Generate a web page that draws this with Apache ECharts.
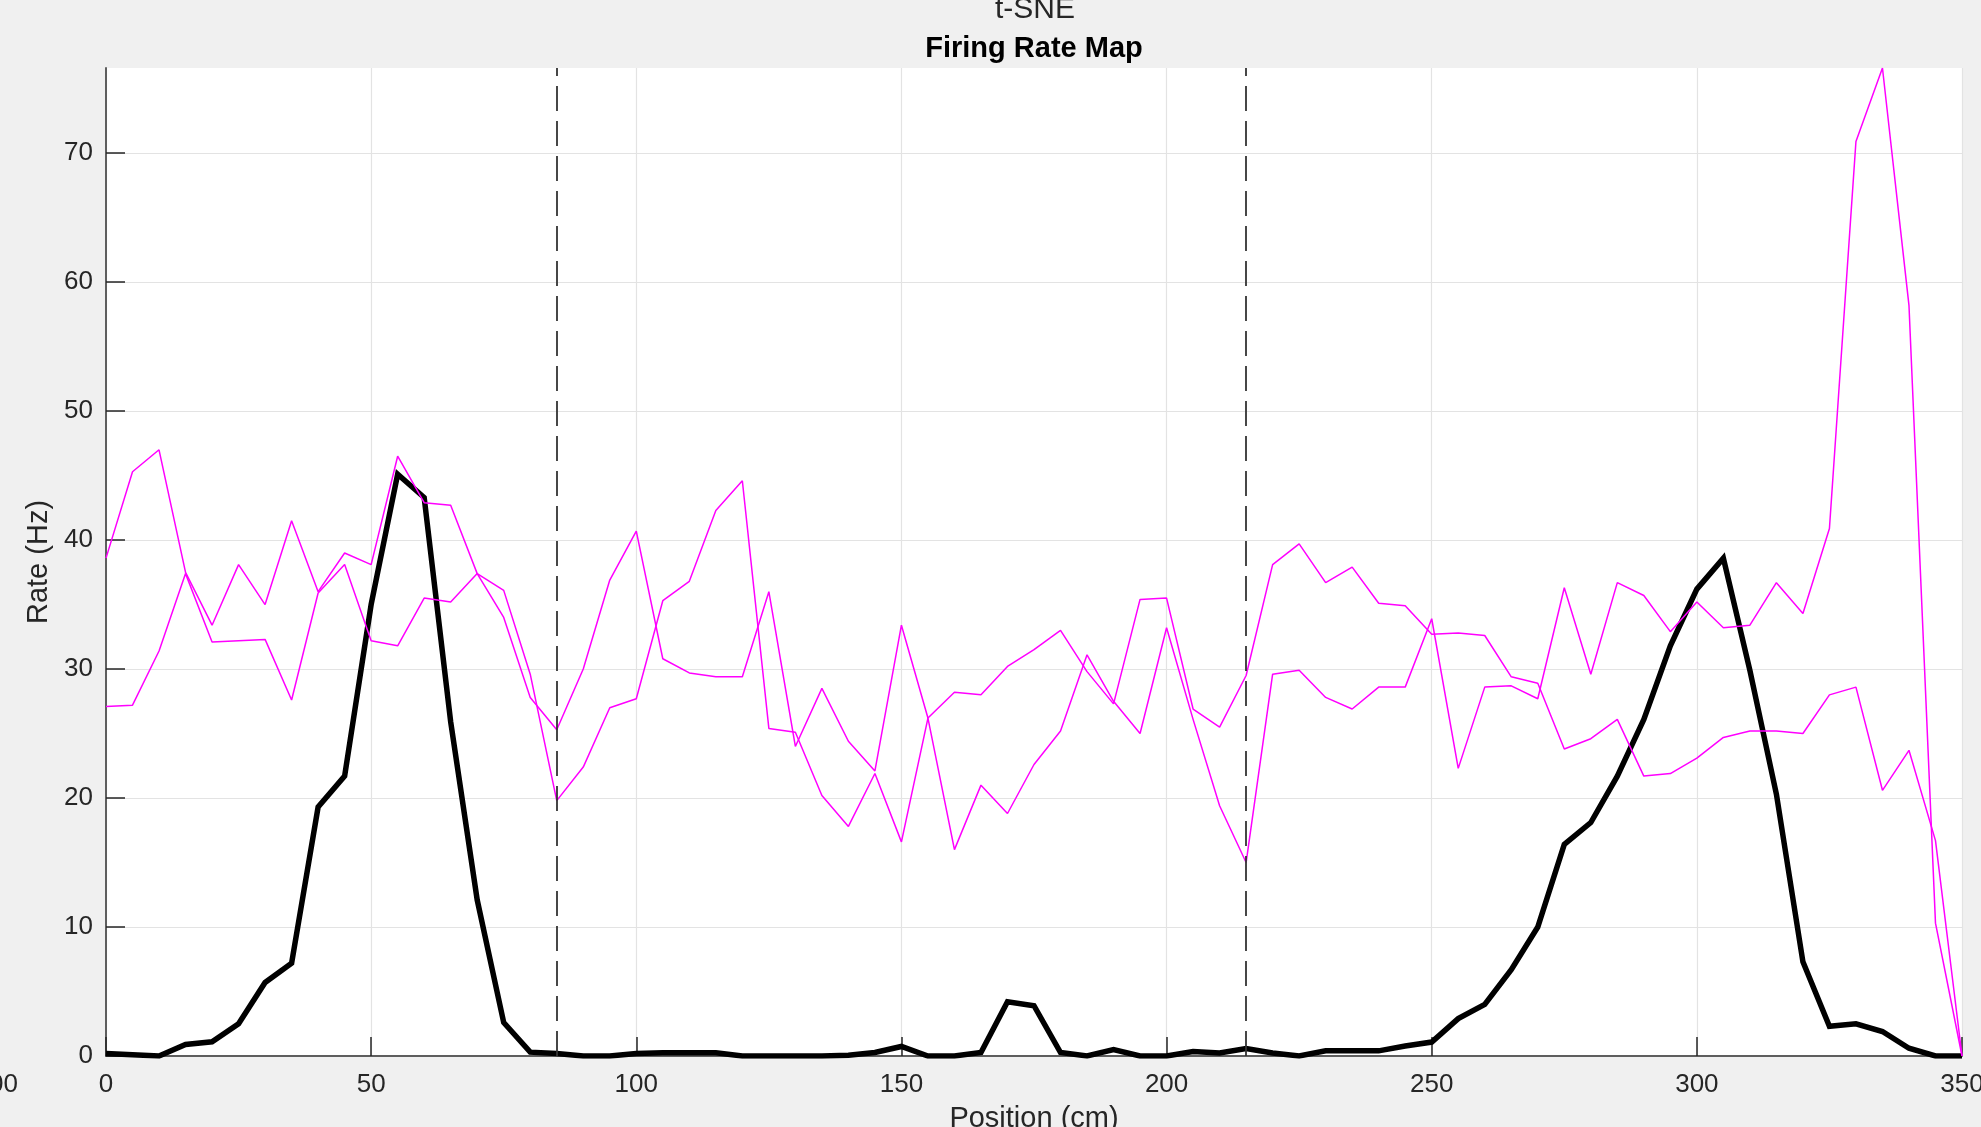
<!DOCTYPE html>
<html>
<head>
<meta charset="utf-8">
<script src="https://cdn.jsdelivr.net/npm/echarts@6/dist/echarts.min.js"></script>
<style>
html,body{margin:0;padding:0;background:#f0f0f0;overflow:hidden;width:100%;height:100%;}
#c{width:1981px;height:1127px;}
</style>
</head>
<body>
<div id="c"></div>
<script>
// Position bins (cm)
const positions = [0,5,10,15,20,25,30,35,40,45,50,55,60,65,70,75,80,85,90,95,100,105,110,115,120,125,130,135,140,145,150,155,160,165,170,175,180,185,190,195,200,205,210,215,220,225,230,235,240,245,250,255,260,265,270,275,280,285,290,295,300,305,310,315,320,325,330,335,340,345,350];

// Black thick: firing rate map
const rateBlack = [0.2,0.1,0,0.9,1.1,2.5,5.7,7.2,19.3,21.7,35.0,45.1,43.3,25.9,12.1,2.6,0.3,0.2,0,0,0.2,0.25,0.25,0.25,0,0,0,0,0.05,0.27,0.74,0,0,0.27,4.2,3.9,0.27,0,0.5,0,0,0.34,0.24,0.57,0.24,0,0.4,0.4,0.4,0.77,1.08,2.9,4.0,6.7,10.0,16.4,18.1,21.7,26.1,31.8,36.2,38.6,29.9,20.3,7.3,2.3,2.5,1.9,0.6,0,0];

// Magenta thin lines
const rateMagentaA = [38.6,45.3,47.0,37.5,33.4,38.1,35.0,41.5,36.0,39.0,38.1,46.5,42.9,42.7,37.4,34.0,27.8,25.3,30.0,36.9,40.7,30.8,29.7,29.4,29.4,36.0,24.0,28.5,24.4,22.1,33.4,26.2,16.0,21.0,18.8,22.6,25.2,31.1,27.5,25.0,33.2,26.1,19.4,15.0,29.6,29.9,27.8,26.9,28.6,28.6,33.9,22.3,28.6,28.7,27.7,36.3,29.6,36.7,35.7,32.9,35.2,33.2,33.4,36.7,34.3,40.9,70.9,76.6,58.2,10.3,0];
const rateMagentaB = [27.1,27.2,31.4,37.4,32.1,32.2,32.3,27.6,35.9,38.1,32.2,31.8,35.5,35.2,37.4,36.1,29.6,19.8,22.4,27.0,27.7,35.3,36.8,42.3,44.6,25.4,25.1,20.2,17.8,21.9,16.6,26.2,28.2,28.0,30.2,31.5,33.0,29.8,27.3,35.4,35.5,26.9,25.5,29.5,38.1,39.7,36.7,37.9,35.1,34.9,32.7,32.8,32.6,29.4,28.9,23.8,24.6,26.1,21.7,21.9,23.1,24.7,25.2,25.2,25.0,28.0,28.6,20.6,23.7,16.7,0];

// Dashed boundary positions (cm)
const boundaries = [85, 215];

const xTicks = {min:0, max:350, interval:50};
const yTicks = {min:0, max:76.6, interval:10};

const pair = arr => positions.map((p,i)=>[p, arr[i]]);
const FONT = '"Liberation Sans", Arial, Helvetica, sans-serif';

const chart = echarts.init(document.getElementById('c'), null, {renderer:'canvas'});
chart.setOption({
  backgroundColor:'#f0f0f0',
  animation:false,
  grid:{left:106, right:19, top:68, bottom:71, show:true, backgroundColor:'#ffffff', borderWidth:0,
        containLabel:false, outerBoundsMode:'none'},
  xAxis:{
    type:'value', min:xTicks.min, max:xTicks.max, interval:xTicks.interval,
    name:'Position (cm)', nameLocation:'middle', nameGap:48,
    nameTextStyle:{fontFamily:FONT, fontSize:29, color:'#262626'},
    axisLine:{show:true, onZero:false, lineStyle:{color:'#5e5e5e', width:2}},
    axisTick:{show:true, inside:true, length:19, lineStyle:{color:'#262626', width:1.5}},
    axisLabel:{fontFamily:FONT, fontSize:26, color:'#262626', margin:16, hideOverlap:false},
    splitLine:{show:true, lineStyle:{color:'#e3e3e3', width:1.2}}
  },
  yAxis:{
    type:'value', min:yTicks.min, max:yTicks.max, interval:yTicks.interval,
    name:'Rate (Hz)', nameLocation:'middle', nameGap:49, nameRotate:90,
    nameTextStyle:{fontFamily:FONT, fontSize:29, color:'#262626'},
    axisLine:{show:true, onZero:false, lineStyle:{color:'#5e5e5e', width:2}},
    axisTick:{show:true, inside:true, length:19, lineStyle:{color:'#262626', width:1.5}},
    axisLabel:{fontFamily:FONT, fontSize:26, color:'#262626', margin:13, showMaxLabel:false},
    splitLine:{show:true, showMaxLine:false, lineStyle:{color:'#e3e3e3', width:1.2}}
  },
  graphic:[
    {type:'text', x:1035, y:10, style:{text:'t-SNE', fontFamily:FONT, fontSize:30, fill:'#262626', textAlign:'center', textVerticalAlign:'middle'}},
    {type:'text', x:1034, y:49, style:{text:'Firing Rate Map', fontFamily:FONT, fontSize:29, fontWeight:'bold', fill:'#000000', textAlign:'center', textVerticalAlign:'middle'}},
    {type:'text', x:18, y:1085, style:{text:'300', fontFamily:FONT, fontSize:26, fill:'#262626', textAlign:'right', textVerticalAlign:'middle'}}
  ],
  series:[
    {type:'line', data:pair(rateBlack), symbol:'none', z:2,
     lineStyle:{color:'#000000', width:5.5, join:'miter'},
     markLine:{silent:true, symbol:'none', label:{show:false},
       lineStyle:{color:'#333333', type:[25,10], width:1.8},
       data:boundaries.map(b=>({xAxis:b}))}},
    {type:'line', data:pair(rateMagentaA), symbol:'none', z:3, lineStyle:{color:'#ff00ff', width:1.5}},
    {type:'line', data:pair(rateMagentaB), symbol:'none', z:3, lineStyle:{color:'#ff00ff', width:1.5}}
  ]
});
</script>
</body>
</html>
